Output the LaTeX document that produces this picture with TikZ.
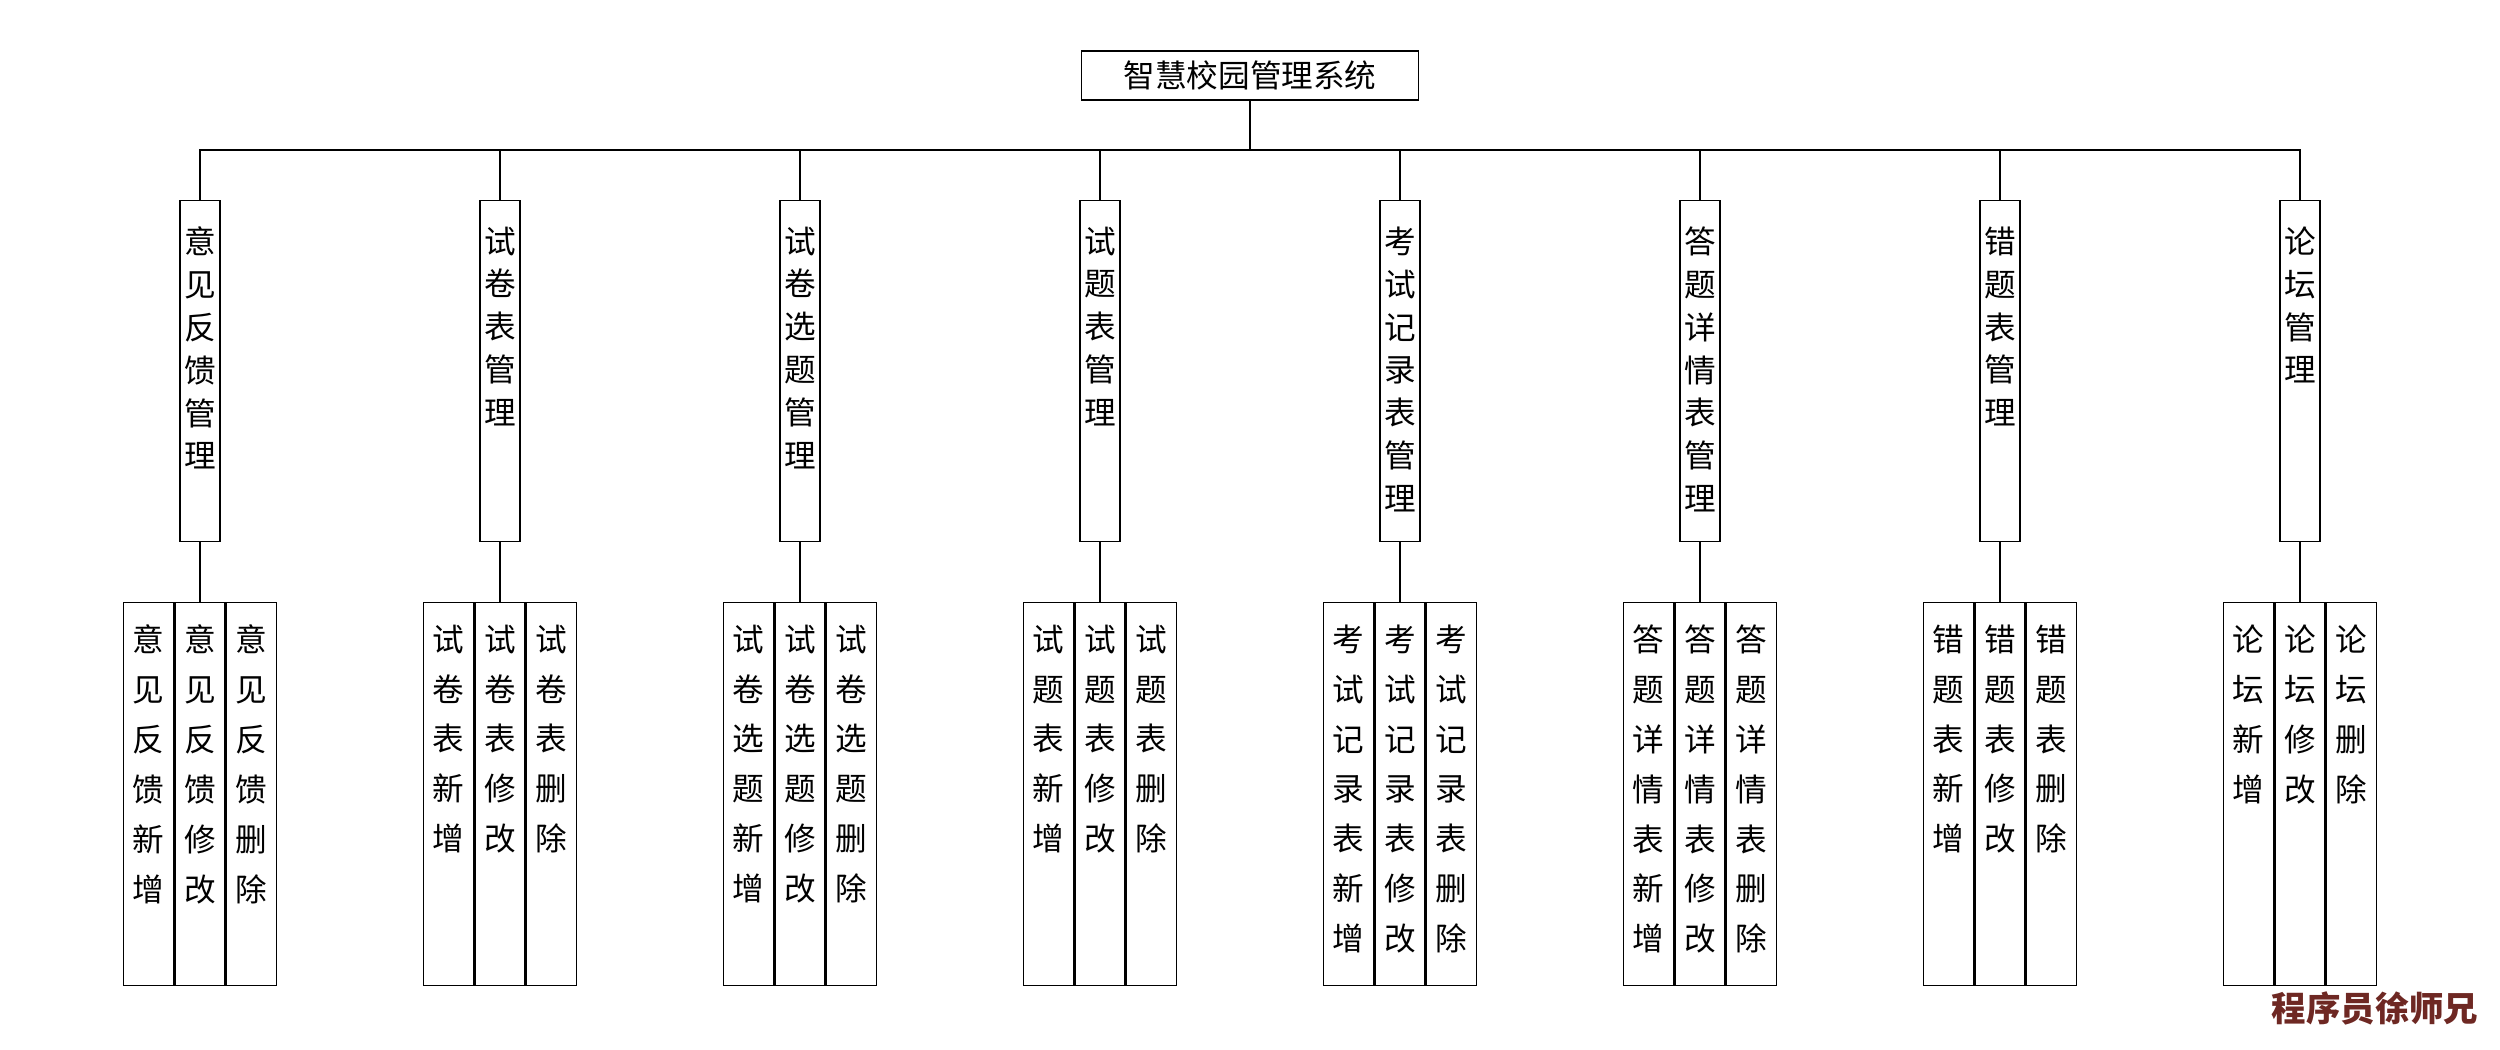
\documentclass[tikz,border=0pt]{standalone}
\usepackage{fontspec}
\newfontfamily\cjk{Noto Sans CJK SC}
\usetikzlibrary{positioning}
\definecolor{wmred}{RGB}{110,40,35}

\begin{document}
\begin{tikzpicture}[x=0.1mm,y=-0.1mm,line width=0.4pt,
  root/.style={draw,inner sep=0pt,minimum width=33.7mm,minimum height=4.9mm,font=\cjk\fontsize{9}{11}\selectfont},
  mod/.style={draw,inner sep=0pt,anchor=north,font=\cjk\fontsize{9}{12.2}\selectfont,
    execute at begin node={\begin{minipage}[t][34.1mm][t]{4mm}\centering\vspace*{2.6mm}},
    execute at end node={\end{minipage}}},
  leaf/.style={draw,inner sep=0pt,anchor=north,font=\cjk\fontsize{9}{14.2}\selectfont,
    execute at begin node={\begin{minipage}[t][38.3mm][t]{5mm}\centering\vspace*{2.2mm}},
    execute at end node={\end{minipage}}}]
\useasboundingbox (0,0) rectangle (2500,1050);
\node[root] (root) at (1250,75.5) {智慧校园管理系统};
\coordinate (bus) at (1250,150);
\draw (root.south) -- (bus);
\foreach \i/\mod/\pre in {1/{意\\见\\反\\馈\\管\\理}/{意\\见\\反\\馈},
    2/{试\\卷\\表\\管\\理}/{试\\卷\\表},
    3/{试\\卷\\选\\题\\管\\理}/{试\\卷\\选\\题},
    4/{试\\题\\表\\管\\理}/{试\\题\\表},
    5/{考\\试\\记\\录\\表\\管\\理}/{考\\试\\记\\录\\表},
    6/{答\\题\\详\\情\\表\\管\\理}/{答\\题\\详\\情\\表},
    7/{错\\题\\表\\管\\理}/{错\\题\\表},
    8/{论\\坛\\管\\理}/{论\\坛}}{
  \node[mod] (m\i) at ({200+300*(\i-1)},200) {\mod};
  \node[leaf] (edit\i) at ({200+300*(\i-1)},602) {\pre\\修\\改};
  \node[leaf,left=0pt of edit\i] (new\i) {\pre\\新\\增};
  \node[leaf,right=0pt of edit\i] (del\i) {\pre\\删\\除};
  \draw (bus) -| (m\i.north);
  \draw (m\i.south) -- (edit\i.north);
}
% watermark
\node[font=\cjk\bfseries\fontsize{9.8}{12}\selectfont,text=wmred] (wm) at (2375,1008) {程序员徐师兄};
\end{tikzpicture}
\end{document}
